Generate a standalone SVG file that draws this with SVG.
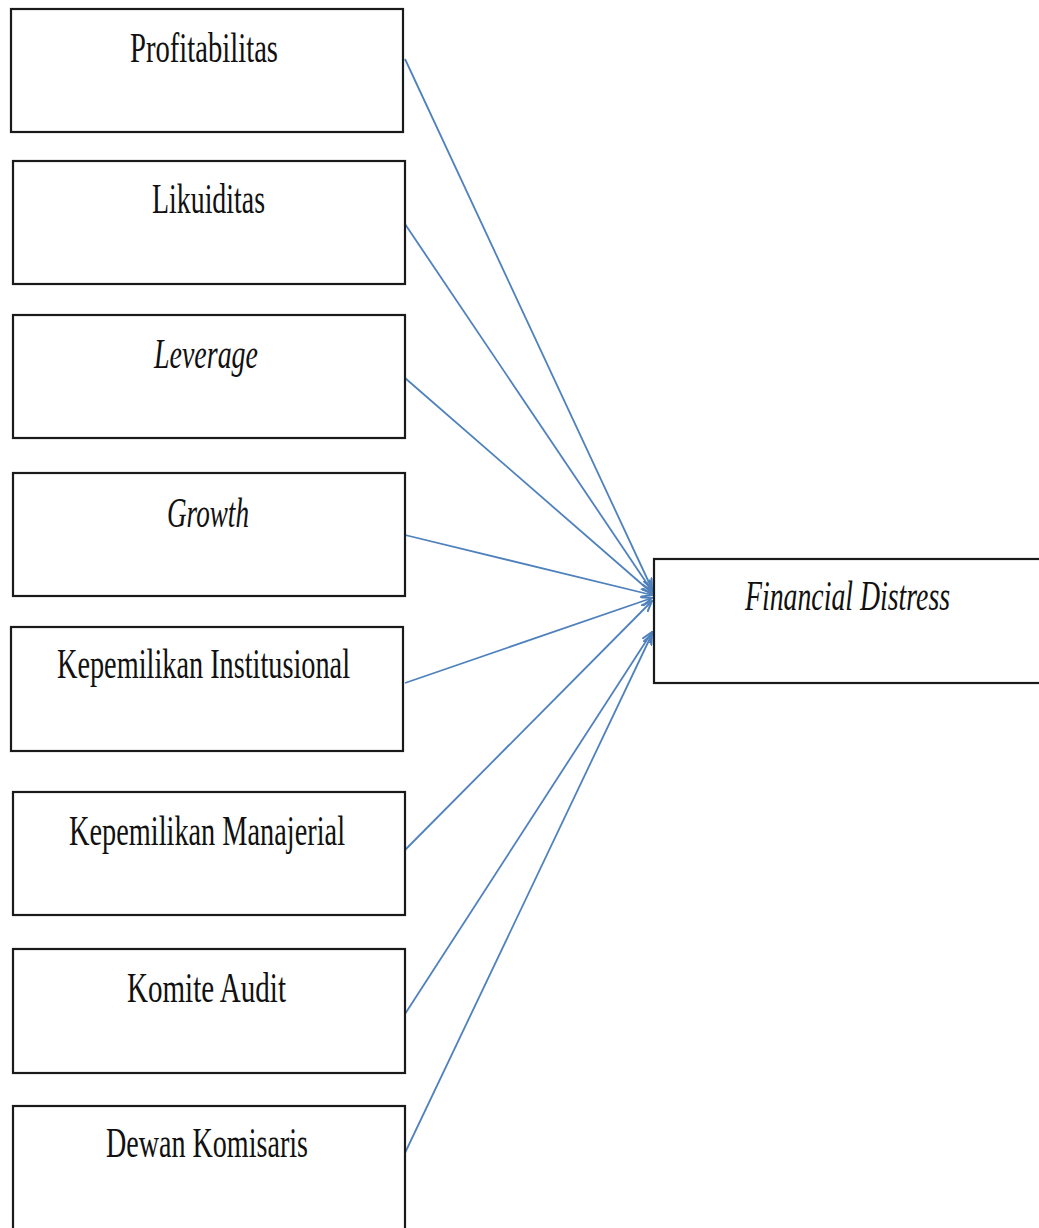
<svg xmlns="http://www.w3.org/2000/svg" width="1039" height="1228" viewBox="0 0 1039 1228">
<style>
.box{fill:#fff;stroke:#1a1a1a;stroke-width:2.2}
.lbl{font-family:"Liberation Serif","Times New Roman",serif;font-size:42px;fill:#111}
.it{font-style:italic}
.conn{stroke:#4f81bd;stroke-width:1.8;fill:none;marker-end:url(#ah)}
</style>
<defs>
<marker id="ah" viewBox="0 0 12 10" refX="11" refY="5" markerWidth="12" markerHeight="10" markerUnits="userSpaceOnUse" orient="auto">
<path d="M0,0.5 L11,5 L0,9.5" fill="none" stroke="#4f81bd" stroke-width="2"/>
</marker>
</defs>
<rect width="1039" height="1228" fill="#fff"/>
<g id="connectors">
<line class="conn" x1="405" y1="59" x2="652" y2="589"/>
<line class="conn" x1="405" y1="224" x2="652" y2="591"/>
<line class="conn" x1="405" y1="378" x2="652" y2="593"/>
<line class="conn" x1="405" y1="535" x2="652" y2="595"/>
<line class="conn" x1="405" y1="683" x2="652" y2="598"/>
<line class="conn" x1="405" y1="850" x2="652" y2="601"/>
<line class="conn" x1="405" y1="1014" x2="652" y2="632"/>
<line class="conn" x1="404" y1="1155" x2="652" y2="634"/>
</g>
<g id="n1"><rect class="box" x="11" y="9" width="392" height="123"/><text class="lbl" x="130" y="62" textLength="148" lengthAdjust="spacingAndGlyphs">Profitabilitas</text></g>
<g id="n2"><rect class="box" x="13" y="161" width="392" height="123"/><text class="lbl" x="152" y="213" textLength="113" lengthAdjust="spacingAndGlyphs">Likuiditas</text></g>
<g id="n3"><rect class="box" x="13" y="315" width="392" height="123"/><text class="lbl it" x="154" y="368" textLength="104" lengthAdjust="spacingAndGlyphs">Leverage</text></g>
<g id="n4"><rect class="box" x="13" y="473" width="392" height="123"/><text class="lbl it" x="167" y="527" textLength="82" lengthAdjust="spacingAndGlyphs">Growth</text></g>
<g id="n5"><rect class="box" x="11" y="627" width="392" height="124"/><text class="lbl" x="57" y="678" textLength="293" lengthAdjust="spacingAndGlyphs">Kepemilikan Institusional</text></g>
<g id="n6"><rect class="box" x="13" y="792" width="392" height="123"/><text class="lbl" x="69" y="845" textLength="276" lengthAdjust="spacingAndGlyphs">Kepemilikan Manajerial</text></g>
<g id="n7"><rect class="box" x="13" y="949" width="392" height="124"/><text class="lbl" x="127" y="1002" textLength="159" lengthAdjust="spacingAndGlyphs">Komite Audit</text></g>
<g id="n8"><rect class="box" x="13" y="1106" width="392" height="130"/><text class="lbl" x="106" y="1157" textLength="202" lengthAdjust="spacingAndGlyphs">Dewan Komisaris</text></g>
<g id="target"><rect class="box" x="654" y="559" width="395" height="124"/><text class="lbl it" x="745" y="610" textLength="205" lengthAdjust="spacingAndGlyphs">Financial Distress</text></g>
</svg>
